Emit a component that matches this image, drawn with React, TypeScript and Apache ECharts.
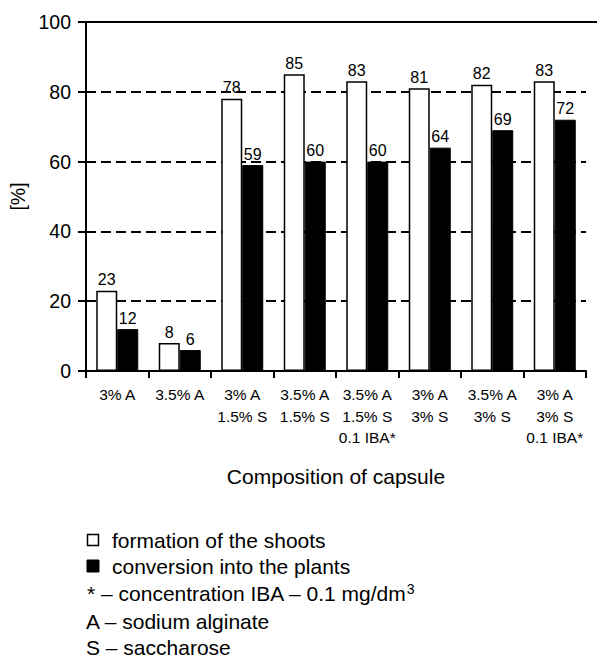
import React, { useEffect, useRef } from "react";
import * as echarts from "echarts";

const categories = [
  "3% A",
  "3.5% A",
  "3% A\n1.5% S",
  "3.5% A\n1.5% S",
  "3.5% A\n1.5% S\n0.1 IBA*",
  "3% A\n3% S",
  "3.5% A\n3% S",
  "3% A\n3% S\n0.1 IBA*",
];
const shootsValues = [23, 8, 78, 85, 83, 81, 82, 83];
const plantsValues = [12, 6, 59, 60, 60, 64, 69, 72];
const seriesNames = ["formation of the shoots", "conversion into the plants"];
const yTicks = [0, 20, 40, 60, 80, 100];
const noteLines = ["A – sodium alginate", "S – saccharose"];

const FONT = "'Liberation Sans', Arial, Helvetica, sans-serif";

export default function App() {
  const ref = useRef<HTMLDivElement>(null);
  useEffect(() => {
    if (!ref.current) return;
    const chart = echarts.init(ref.current, undefined, { renderer: "svg" });
    const legendX = 87;
    const legendRowsY = [540, 566, 593, 621, 647];
    const valueLabel = {
      show: true,
      position: "top",
      distance: 3,
      color: "#000",
      fontSize: 16,
      fontFamily: FONT,
    };
    const textStyle = (text: string) => ({
      text,
      fontSize: 21,
      fontFamily: FONT,
      fill: "#000",
      verticalAlign: "middle",
    });
    chart.setOption({
      animation: false,
      textStyle: { fontFamily: FONT, color: "#000" },
      grid: {
        left: 86,
        right: 11,
        top: 22,
        bottom: 296,
        containLabel: false,
        outerBoundsMode: "none",
      },
      xAxis: {
        type: "category",
        data: categories,
        axisLine: { show: true, lineStyle: { color: "#000", width: 2 } },
        axisTick: { show: true, length: 7, lineStyle: { color: "#000", width: 2 } },
        axisLabel: {
          color: "#000",
          fontSize: 15.5,
          lineHeight: 21.5,
          margin: 13,
          fontFamily: FONT,
          interval: 0,
        },
        name: "Composition of capsule",
        nameLocation: "middle",
        nameGap: 95,
        nameTextStyle: { color: "#000", fontSize: 21, fontFamily: FONT },
      },
      yAxis: {
        type: "value",
        min: yTicks[0],
        max: yTicks[yTicks.length - 1],
        interval: 20,
        axisLine: { show: true, lineStyle: { color: "#000", width: 2 } },
        axisTick: { show: true, length: 8, lineStyle: { color: "#000", width: 2 } },
        axisLabel: { color: "#000", fontSize: 19.5, margin: 15, fontFamily: FONT },
        splitLine: {
          show: true,
          lineStyle: { color: "#000", width: 2.2, type: [10, 5] },
        },
        name: "[%]",
        nameLocation: "middle",
        nameGap: 52,
        nameRotate: 90,
        nameTextStyle: { color: "#000", fontSize: 19.5, fontFamily: FONT },
      },
      series: [
        {
          name: seriesNames[0],
          type: "bar",
          data: shootsValues,
          barWidth: 21,
          barGap: "0%",
          itemStyle: { color: "#fff", borderColor: "#000", borderWidth: 1.5 },
          label: valueLabel,
        },
        {
          name: seriesNames[1],
          type: "bar",
          data: plantsValues,
          barWidth: 21,
          barGap: "0%",
          itemStyle: { color: "#000", borderColor: "#000", borderWidth: 1 },
          label: valueLabel,
        },
      ],
      graphic: [
        {
          type: "line",
          shape: { x1: 86, y1: 22, x2: 597, y2: 22 },
          style: { stroke: "#000", lineWidth: 2 },
          z: 10,
        },
        {
          type: "rect",
          shape: { x: legendX + 0.5, y: legendRowsY[0] - 5.5, width: 11, height: 11 },
          style: { fill: "#fff", stroke: "#000", lineWidth: 1.5 },
        },
        { type: "text", x: 112, y: legendRowsY[0], style: textStyle(seriesNames[0]) },
        {
          type: "rect",
          shape: { x: legendX, y: legendRowsY[1] - 6, width: 12, height: 12 },
          style: { fill: "#000", stroke: "#000", lineWidth: 1 },
        },
        { type: "text", x: 112, y: legendRowsY[1], style: textStyle(seriesNames[1]) },
        {
          type: "text",
          x: legendX,
          y: legendRowsY[2],
          style: {
            ...textStyle("* – concentration IBA – 0.1 mg/dm{sup|3}"),
            rich: {
              sup: { fontSize: 14, fontFamily: FONT, fill: "#000", padding: [0, 0, 9, 0] },
            },
          },
        },
        { type: "text", x: legendX - 1, y: legendRowsY[3], style: textStyle(noteLines[0]) },
        { type: "text", x: legendX - 1, y: legendRowsY[4], style: textStyle(noteLines[1]) },
      ],
    });
    return () => chart.dispose();
  }, []);
  return (
    <div
      ref={ref}
      style={{ position: "fixed", left: 0, top: 0, width: 597, height: 667, background: "#fff" }}
    />
  );
}
